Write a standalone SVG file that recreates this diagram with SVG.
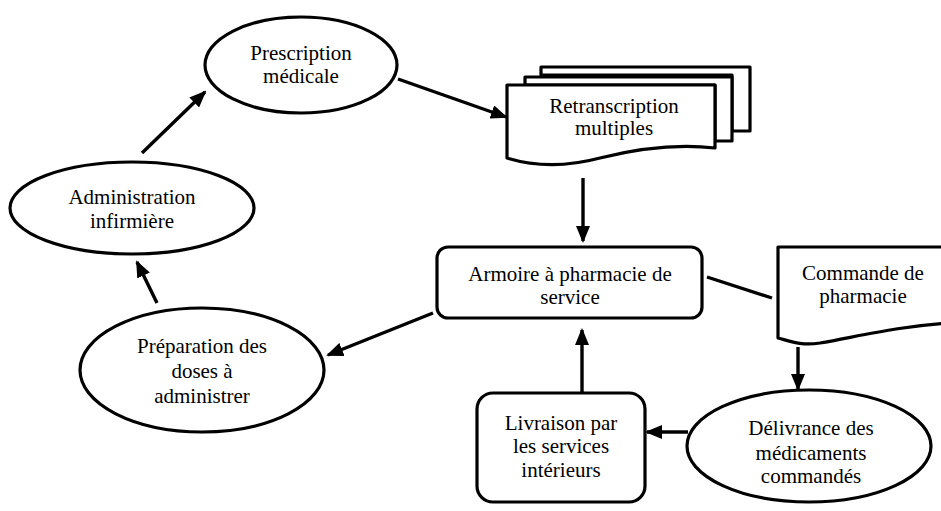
<svg xmlns="http://www.w3.org/2000/svg" width="941" height="511" viewBox="0 0 941 511">
<style>
.s{fill:#fff;stroke:#000;stroke-width:3.2;stroke-linejoin:round}
.c{fill:none;stroke:#000;stroke-width:3.4}
.t{font-family:'Liberation Serif','DejaVu Serif',serif;font-size:21px;fill:#000;text-anchor:middle}
</style>
<defs>
<marker id="ah" markerWidth="17" markerHeight="14" refX="15" refY="7" orient="auto" markerUnits="userSpaceOnUse">
<path d="M0,0 L17,7 L0,14 z" fill="#000"/>
</marker>
</defs>
<rect width="941" height="511" fill="#fff"/>
<g id="prescription">
<ellipse class="s" cx="301" cy="65" rx="96" ry="48"/>
<text class="t" x="301" y="60">Prescription</text>
<text class="t" x="301" y="83">médicale</text>
</g>
<g id="retranscription">
<path class="s" d="M541,67 H750 V131 H732 V75 H541 Z"/>
<path class="s" d="M525,77 H732 V141 H715 V85 H525 Z"/>
<path class="s" d="M507,85 H715 V148 C680,144 640,148 600,158 C570,166 540,168 507,158 Z"/>
<text class="t" x="614" y="113">Retranscription</text>
<text class="t" x="614" y="135">multiples</text>
</g>
<g id="administration">
<ellipse class="s" cx="132" cy="208" rx="122" ry="46"/>
<text class="t" x="132" y="204">Administration</text>
<text class="t" x="132" y="228">infirmière</text>
</g>
<g id="armoire">
<rect class="s" x="437" y="247" width="265" height="71" rx="11"/>
<text class="t" x="570" y="281">Armoire à pharmacie de</text>
<text class="t" x="570" y="304">service</text>
</g>
<g id="commande">
<path class="s" d="M778,247 H950 V323 C900,326 860,336 820,343 C800,346 790,341 778,338 Z"/>
<text class="t" x="863" y="280">Commande de</text>
<text class="t" x="863" y="303">pharmacie</text>
</g>
<g id="preparation">
<ellipse class="s" cx="202" cy="370" rx="122" ry="62"/>
<text class="t" x="202" y="353">Préparation des</text>
<text class="t" x="202" y="378">doses à</text>
<text class="t" x="202" y="403">administrer</text>
</g>
<g id="livraison">
<rect class="s" x="477" y="393" width="168" height="109" rx="16"/>
<text class="t" x="561" y="430">Livraison par</text>
<text class="t" x="561" y="453">les services</text>
<text class="t" x="561" y="477">intérieurs</text>
</g>
<g id="delivrance">
<ellipse class="s" cx="809" cy="446" rx="122" ry="56"/>
<text class="t" x="811" y="435">Délivrance des</text>
<text class="t" x="811" y="460">médicaments</text>
<text class="t" x="811" y="483">commandés</text>
</g>
<g id="connectors">
<line class="c" x1="142" y1="153" x2="205" y2="92" marker-end="url(#ah)"/>
<line class="c" x1="398" y1="79" x2="506" y2="117" marker-end="url(#ah)"/>
<line class="c" x1="583" y1="178" x2="583" y2="241" marker-end="url(#ah)"/>
<line class="c" x1="433" y1="313" x2="328" y2="355" marker-end="url(#ah)"/>
<line class="c" x1="157" y1="303" x2="137" y2="262" marker-end="url(#ah)"/>
<line class="c" x1="582" y1="392" x2="582" y2="330" marker-end="url(#ah)"/>
<line class="c" x1="688" y1="432" x2="647" y2="432" marker-end="url(#ah)"/>
<line class="c" x1="798" y1="347" x2="798" y2="389" marker-end="url(#ah)"/>
<line class="c" x1="707" y1="277" x2="772" y2="298"/>
</g>
</svg>
